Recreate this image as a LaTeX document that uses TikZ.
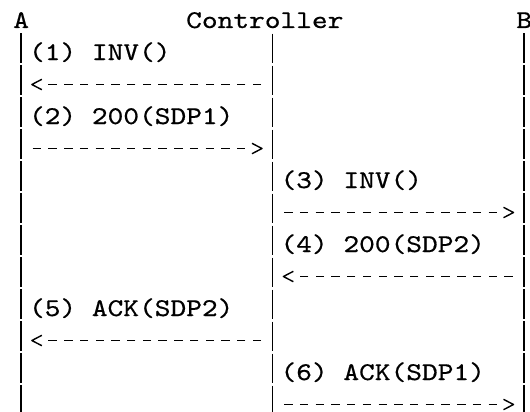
\documentclass[tikz,border=0pt]{standalone}
\usepackage{fontspec}
\usepackage{tikz}
\usetikzlibrary{calc}
\newfontfamily\seqfont{lmmono10-regular.otf}[FakeStretch=1.1742, FakeBold=0.6]
\tikzset{
  seqtext/.style={anchor=base west, inner sep=0pt, outer sep=0pt, font=\seqfont\fontsize{25.5pt}{32pt}\selectfont},
  lifeline/.style={line width=1.6pt, dash pattern=on 29.5pt off 2.5pt, shorten <=5.4pt},
  msgline/.style={line width=1.6pt, dash pattern=on 8.4pt off 7.32pt, shorten <=11.52pt, shorten >=27.24pt},
  msgtip/.style={line width=1.4pt, line join=round}
}
\newcommand{\seqlabel}[3] {\node[seqtext] (#1) at (#2) {#3};}
\newcommand{\seqmsg}[2] {\draw[msgline] (#1) -- (#2);
  \draw[msgtip] ($(#2)!20.7pt!(#1)+(0,5.2pt)$) -- ($(#2)!10.7pt!(#1)$) -- ($(#2)!20.7pt!(#1)-(0,5.2pt)$);}

\begin{document}
\begin{tikzpicture}
\useasboundingbox (0,0) rectangle (530pt,-412pt);
\begin{scope}[shift={(13.3pt,-28pt)}, x=15.72pt, y=-32pt]
\seqlabel {a} {0,0} {A};
\seqlabel {ctrl} {11,0} {Controller};
\seqlabel {b} {32,0} {B};

% lifelines and one point per arrow row
\foreach \n/\k in {a/0, ctrl/16, b/32} {
  \coordinate (\n-bot) at (\k+0.5, 12);
  \draw[lifeline] (\n-bot |- \n.south) -- (\n-bot);
  \foreach \r in {2,4,...,12}
    \coordinate (\n\r) at (\k+0.5, \r-0.234);
}

\seqlabel {m1} {1,1} {(1) INV()};
\seqmsg{ctrl2}{a2};
\seqlabel {m2} {1,3} {(2) 200(SDP1)};
\seqmsg{a4}{ctrl4};

\seqlabel {m3} {17,5} {(3) INV()};
\seqmsg{ctrl6}{b6};
\seqlabel {m4} {17,7} {(4) 200(SDP2)};
\seqmsg{b8}{ctrl8};

\seqlabel {m5} {1,9} {(5) ACK(SDP2)};
\seqmsg{ctrl10}{a10};
\seqlabel {m6} {17,11} {(6) ACK(SDP1)};
\seqmsg{ctrl12}{b12};
\end{scope}
\end{tikzpicture}
\end{document}
